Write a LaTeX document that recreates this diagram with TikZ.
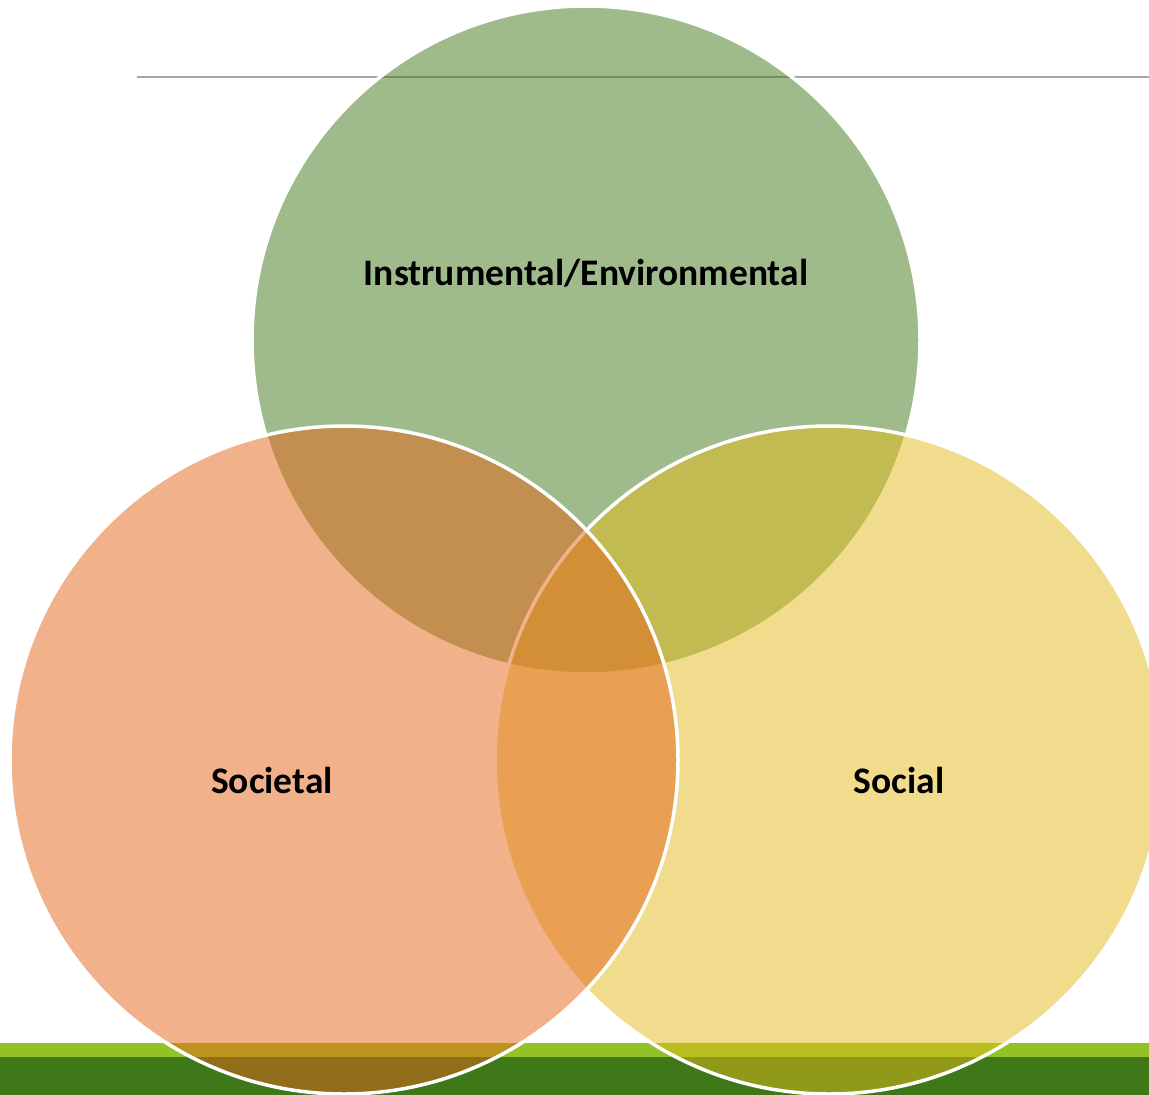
\documentclass[tikz,border=0pt]{standalone}
\usepackage{fontspec}
\setmainfont{Carlito}
\definecolor{topgreen}{RGB}{65,121,25}
\definecolor{rightgold}{RGB}{227,187,27}
\definecolor{leftorange}{RGB}{229,101,25}
\definecolor{darkbar}{RGB}{62,120,25}
\definecolor{lightbar}{RGB}{146,194,37}
\definecolor{rulegrey}{RGB}{166,166,166}
\begin{document}
\begin{tikzpicture}[x=1pt,y=-1pt,
  venn/.style={circle, minimum size=668pt, inner sep=0pt, outer sep=0pt, fill opacity=0.5, draw=white, line width=3.5pt},
  lbl/.style={font=\fontsize{37.5}{45}\selectfont\bfseries, anchor=base, text=black, inner sep=0pt}]
\useasboundingbox (0,0) rectangle (1149,1095);
\fill[white] (0,0) rectangle (1149,1095);
% header rule
\draw[rulegrey, line width=1.4pt] (137,77) -- (1149,77);
% footer bars
\fill[lightbar] (0,1043) rectangle (1149,1057);
\fill[darkbar] (0,1057) rectangle (1149,1095);
% circles (order: top, right, left)
\node[venn, fill=topgreen] (top) at (586,340) {};
\node[venn, fill=rightgold] (right) at (829,760) {};
\node[venn, fill=leftorange] (left) at (344,760) {};
% labels
\node[lbl] (ltop) at (586,285) {Instrumental/Environmental};
\node[lbl] (lleft) at (272,793) {Societal};
\node[lbl] (lright) at (899,793) {Social};
\end{tikzpicture}
\end{document}
